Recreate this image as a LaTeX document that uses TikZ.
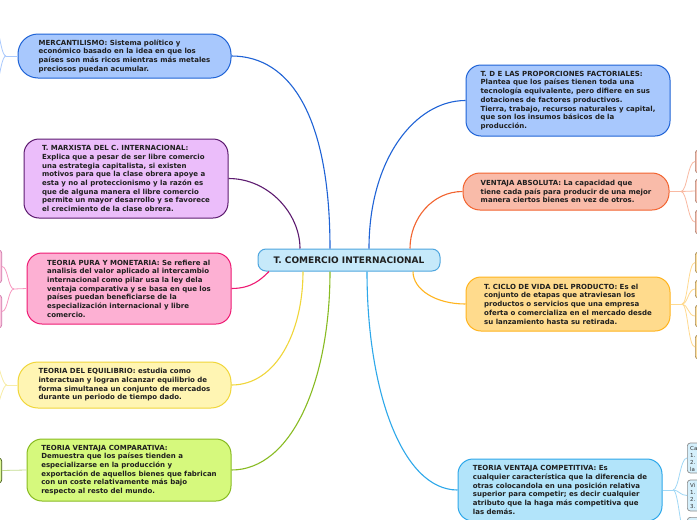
\documentclass[tikz,border=0pt]{standalone}
\usepackage{fontspec}
\setmainfont{DejaVu Sans}
\begin{document}
\definecolor{cBlueF}{HTML}{A8C8FD}
\definecolor{cBlueD}{HTML}{1F63D6}
\definecolor{cCenF}{HTML}{C6E9FA}
\definecolor{cCenD}{HTML}{4FA6DF}
\definecolor{cPurF}{HTML}{EBBDFA}
\definecolor{cPurD}{HTML}{5D1B70}
\definecolor{cPinkF}{HTML}{FDB0D3}
\definecolor{cPinkD}{HTML}{EE1A73}
\definecolor{cYelF}{HTML}{FFF5B3}
\definecolor{cYelD}{HTML}{F0D63A}
\definecolor{cGrnF}{HTML}{D6F97D}
\definecolor{cGrnD}{HTML}{88BB22}
\definecolor{cOrF}{HTML}{F9BBA9}
\definecolor{cOrD}{HTML}{F26430}
\definecolor{cGoF}{HTML}{FFDB8D}
\definecolor{cGoD}{HTML}{FFB41E}
\definecolor{cSkyF}{HTML}{B2E4FA}
\definecolor{cSkyD}{HTML}{2EA8EA}
\begin{tikzpicture}[x=1pt,y=-1pt,
  topic/.style={draw, line width=1pt, rounded corners=15pt, align=left, inner sep=0pt,
    font=\fontsize{7}{8.7}\selectfont\bfseries, text=black!88},
  centre/.style={draw, line width=1pt, rounded corners=8pt, inner sep=0pt,
    font=\fontsize{9}{10}\selectfont\bfseries, text=black!88},
  link/.style={line width=1.1pt},
  sublink/.style={line width=0.8pt},
  subbox/.style={draw, line width=0.7pt, rounded corners=3pt, inner sep=0pt},
  subtext/.style={inner sep=0pt, align=left, font=\fontsize{5.5}{7}\selectfont, text=black!80},
]
\useasboundingbox (0,0) rectangle (697,520);
\clip (0,0) rectangle (697,520);
\fill[white] (0,0) rectangle (697,520);

% ---------- main topics ----------
\node[centre, fill=cCenF, draw=cCenD, minimum width=182pt, minimum height=22pt] (central) at (349,260)
  {T. COMERCIO INTERNACIONAL};

\node[topic, fill=cBlueF, draw=cBlueD, rounded corners=20pt, minimum width=213pt, minimum height=44pt] (merc) at (124.5,56)
  {MERCANTILISMO: Sistema político y\\económico basado en la idea en que los\\países son más ricos mientras más metales\\preciosos puedan acumular.};

\node[topic, fill=cPurF, draw=cPurD, minimum width=204pt, minimum height=79pt] (marx) at (126,178.5)
  {T. MARXISTA DEL C. INTERNACIONAL:\\Explica que a pesar de ser libre comercio\\una estrategia capitalista, si existen\\motivos para que la clase obrera apoye a\\esta y no al proteccionismo y la razón es\\que de alguna manera el libre comercio\\permite un mayor desarrollo y se favorece\\el crecimiento de la clase obrera.};

\node[topic, fill=cPinkF, draw=cPinkD, minimum width=204pt, minimum height=71pt] (pura) at (129,288.5)
  {TEORIA PURA Y MONETARIA: Se refiere al\\analisis del valor aplicado al intercambio\\internacional como pilar usa la ley dela\\ventaja comparativa y se basa en que los\\países puedan beneficiarse de la\\especialización internacional y libre\\comercio.};

\node[topic, fill=cYelF, draw=cYelD, rounded corners=20pt, minimum width=213pt, minimum height=46pt] (equil) at (124.5,385)
  {TEORIA DEL EQUILIBRIO: estudia como\\interactuan y logran alcanzar equilibrio de\\forma simultanea un conjunto de mercados\\durante un periodo de tiempo dado.};

\node[topic, fill=cGrnF, draw=cGrnD, minimum width=204pt, minimum height=62pt] (comp) at (129,470)
  {TEORIA VENTAJA COMPARATIVA:\\Demuestra que los países tienden a\\especializarse en la producción y\\exportación de aquellos bienes que fabrican\\con un coste relativamente más bajo\\respecto al resto del mundo.};

\node[topic, fill=cBlueF, draw=cBlueD, minimum width=204pt, minimum height=71pt] (prop) at (568,100.5)
  {T. D E LAS PROPORCIONES FACTORIALES:\\Plantea que los países tienen toda una\\tecnología equivalente, pero difiere en sus\\dotaciones de factores productivos.\\Tierra, trabajo, recursos naturales y capital,\\que son los insumos básicos de la\\producción.};

\node[topic, fill=cOrF, draw=cOrD, rounded corners=17pt, minimum width=206pt, minimum height=37pt] (abs) at (566,191.5)
  {VENTAJA ABSOLUTA: La capacidad que\\tiene cada país para producir de una mejor\\manera ciertos bienes en vez de otros.};

\node[topic, fill=cGoF, draw=cGoD, minimum width=204pt, minimum height=54pt] (ciclo) at (568,304)
  {T. CICLO DE VIDA DEL PRODUCTO: Es el\\conjunto de etapas que atraviesan los\\productos o servicios que una empresa\\oferta o comercializa en el mercado desde\\su lanzamiento hasta su retirada.};

\node[topic, fill=cSkyF, draw=cSkyD, minimum width=204pt, minimum height=62pt] (compet) at (560,490)
  {TEORIA VENTAJA COMPETITIVA: Es\\cualquier característica que la diferencia de\\otras colocandola en una posición relativa\\superior para competir; es decir cualquier\\atributo que la haga más competitiva que\\las demás.};

% ---------- main connectors ----------
\draw[link, cBlueD] (merc.east) .. controls +(60,0) and +(0,-130) .. ([xshift=-19pt]central.north);
\draw[link, cPurD] (marx.east) .. controls +(40,0) and +(0,-35) .. ([xshift=-49pt]central.north);
\draw[link, cBlueD] (prop.west) .. controls +(-50,0) and +(0,-90) .. ([xshift=20pt]central.north);
\draw[link, cOrD] (abs.west) .. controls +(-30,0) and +(0,-30) .. ([xshift=61pt]central.north);
\draw[link, cPinkD] (pura.east) .. controls +(20,0) and +(-8,8) .. ([xshift=-80pt]central.south);
\draw[link, cYelD] (equil.east) .. controls +(45,0) and +(0,60) .. ([xshift=-46pt]central.south);
\draw[link, cGrnD] (comp.east) .. controls +(60,0) and +(0,110) .. ([xshift=-19pt]central.south);
\draw[link, cSkyD] (compet.west) .. controls +(-55,0) and +(0,120) .. ([xshift=18pt]central.south);
\draw[link, cGoD] (ciclo.west) .. controls +(-30,0) and +(0,18) .. ([xshift=64pt]central.south);

% ---------- sub-topics, left side ----------
\node[subbox, fill=cBlueF!60, draw=cBlueD!50, minimum width=30pt, minimum height=26pt, anchor=east] (m1) at (-3,26) {};
\node[subbox, fill=cBlueF!60, draw=cBlueD!50, minimum width=30pt, minimum height=26pt, anchor=east] (m2) at (-3,86) {};
\coordinate (mb) at (6,56);
\draw[sublink, cBlueF] (merc.west) -- (mb);
\draw[sublink, cBlueF] (mb) .. controls +(-4,0) and +(3,12) .. (m1.east);
\draw[sublink, cBlueF] (mb) .. controls +(-4,0) and +(3,-12) .. (m2.east);

\node[subbox, fill=cPinkF!70, draw=cPurD!45!cPinkD!60, minimum width=20pt, minimum height=33pt, anchor=east] (p1) at (2,266.5) {};
\node[subbox, fill=cPinkF!70, draw=cPurD!45!cPinkD!60, minimum width=20pt, minimum height=33pt, anchor=east] (p2) at (2,311.5) {};
\coordinate (pb) at (14,289);
\draw[sublink, cPinkD!45] (pura.west) -- (pb);
\draw[sublink, cPinkD!45] (pb) .. controls +(-6,0) and +(6,0) .. (p1.east);
\draw[sublink, cPinkD!45] (pb) .. controls +(-6,0) and +(6,0) .. (p2.east);

\node[subbox, fill=cYelF, draw=cYelD, minimum width=30pt, minimum height=26pt, anchor=east] (e1) at (-3,362) {};
\node[subbox, fill=cYelF, draw=cYelD, minimum width=30pt, minimum height=26pt, anchor=east] (e2) at (-3,408) {};
\coordinate (eb) at (7,385);
\draw[sublink, cYelD!45] (equil.west) -- (eb);
\draw[sublink, cYelD!45] (eb) .. controls +(-4,0) and +(3,8) .. (e1.east);
\draw[sublink, cYelD!45] (eb) .. controls +(-4,0) and +(3,-8) .. (e2.east);

\node[subbox, fill=cGrnF!80, draw=black!55!cGrnD, minimum width=20pt, minimum height=25pt, anchor=east] (g1) at (2,470.5) {};
\draw[sublink, cGrnD!50] (comp.west) -- (g1.east);

% ---------- sub-topics, right side ----------
\node[subbox, fill=cOrF!85, draw=black!50!cOrD!60, minimum width=25pt, minimum height=23pt, anchor=west] (a1) at (695,161.5) {};
\node[subbox, fill=cOrF!85, draw=black!50!cOrD!60, minimum width=25pt, minimum height=24pt, anchor=west] (a2) at (695,191) {};
\node[subbox, fill=cOrF!85, draw=black!50!cOrD!60, minimum width=25pt, minimum height=24pt, anchor=west] (a3) at (695,222) {};
\coordinate (ab) at (681,191.5);
\draw[sublink, cOrD!45] (abs.east) -- (ab);
\draw[sublink, cOrD!45] (ab) .. controls +(6,0) and +(-7,0) .. (a1.west);
\draw[sublink, cOrD!45] (ab) -- (a2.west);
\draw[sublink, cOrD!45] (ab) .. controls +(6,0) and +(-7,0) .. (a3.west);

\node[subbox, fill=cGoF!85, draw=black!50!cGoD!70, minimum width=25pt, minimum height=21pt, anchor=west] (c1) at (695,262.5) {};
\node[subbox, fill=cGoF!85, draw=black!50!cGoD!70, minimum width=25pt, minimum height=18pt, anchor=west] (c2) at (695,289) {};
\node[subbox, fill=cGoF!85, draw=black!50!cGoD!70, minimum width=25pt, minimum height=22pt, anchor=west] (c3) at (695,316) {};
\node[subbox, fill=cGoF!85, draw=black!50!cGoD!70, minimum width=25pt, minimum height=24pt, anchor=west] (c4) at (695,347) {};
\coordinate (cb) at (682,304);
\draw[sublink, cGoD!50] (ciclo.east) -- (cb);
\draw[sublink, cGoD!50] (cb) .. controls +(6,0) and +(-7,0) .. (c1.west);
\draw[sublink, cGoD!50] (cb) .. controls +(6,0) and +(-7,0) .. (c2.west);
\draw[sublink, cGoD!50] (cb) .. controls +(6,0) and +(-7,0) .. (c3.west);
\draw[sublink, cGoD!50] (cb) .. controls +(6,0) and +(-7,0) .. (c4.west);

\node[subbox, fill=cSkyF!55, draw=black!45, minimum width=40pt, minimum height=30pt, anchor=west] (k1) at (687,458) {};
\node[subbox, fill=cSkyF!55, draw=black!45, minimum width=40pt, minimum height=31pt, anchor=west] (k2) at (687,495.5) {};
\node[subbox, fill=cSkyF!55, draw=black!45, minimum width=40pt, minimum height=30pt, anchor=north west] (k3) at (687,517) {};
\node[subtext, anchor=north west] (k1t) at (690,446) {Ca\\1.\\2.\\la};
\node[subtext, anchor=north west] (k2t) at (690,483) {Vi\\1.\\2.\\3.};
\coordinate (kb) at (673,490);
\draw[sublink, cSkyD!45] (compet.east) -- (kb);
\draw[sublink, cSkyD!45] (kb) .. controls +(6,0) and +(-7,0) .. (k1.west);
\draw[sublink, cSkyD!45] (kb) .. controls +(6,0) and +(-7,0) .. (k2.west);
\draw[sublink, cSkyD!45] (kb) .. controls +(6,0) and +(-7,0) .. ([yshift=-6pt]k3.west);
\end{tikzpicture}
\end{document}
